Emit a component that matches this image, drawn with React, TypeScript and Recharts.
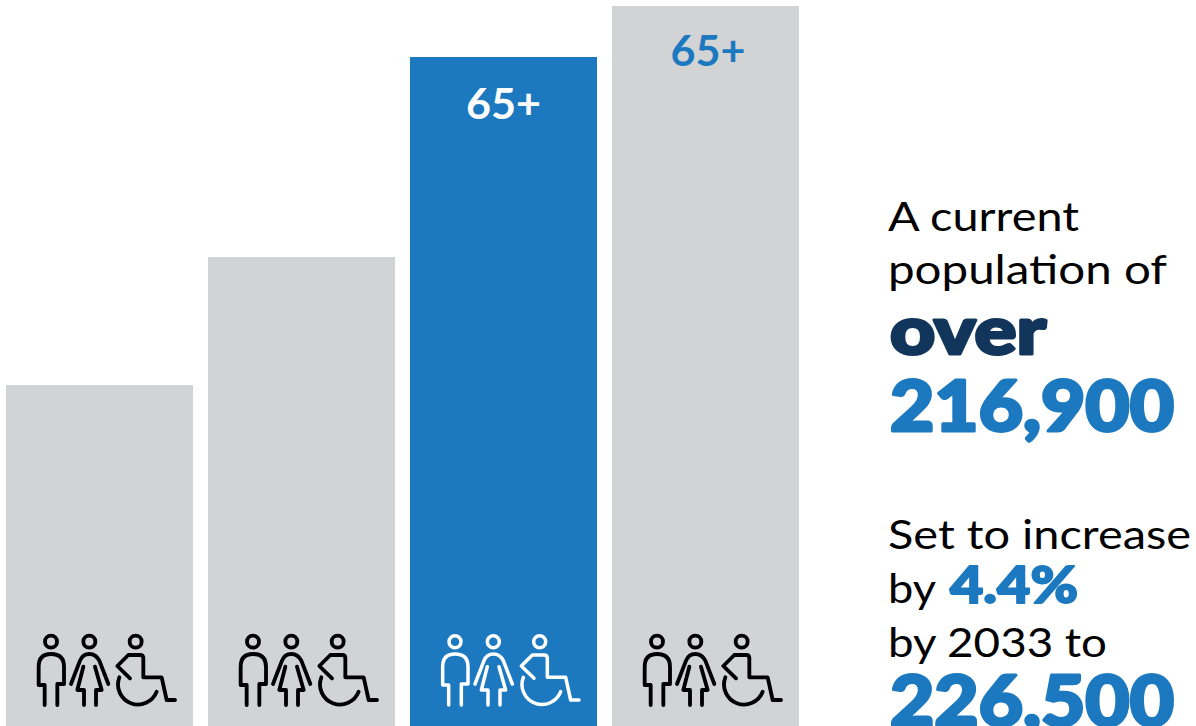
import React from "react";
import { BarChart, Bar, XAxis, YAxis, Rectangle, LabelList } from "recharts";

const ageBands = ["Band A", "Band B", "Band C", "Band D"];
const populationIndex = [341, 469, 669, 720];
const bandLabels = ["", "", "65+", "65+"];

const BLUE = "#1c79c0";
const GREY = "#d1d3d5";
const NAVY = "#12355b";
const HIGHLIGHT = 2;
const FONT = "Lato, 'Open Sans', sans-serif";

const rows = ageBands.map((band, i) => ({
  band,
  value: populationIndex[i],
  label: bandLabels[i],
}));

// Man, woman and wheelchair-user pictograms sitting at the foot of each bar.
function People({ left, colour }: { left: number; colour: string }) {
  return (
    <g
      transform={`translate(${left - 6} 620) scale(${1 / 3})`}
      fill="none"
      stroke={colour}
      strokeWidth={colour === "#000000" ? 11.5 : 10.5}
      strokeLinecap="round"
      strokeLinejoin="round"
    >
      <circle cx={153} cy={65} r={18} />
      <path d="M134 255V195H116V140Q116 102 153 102Q192 102 192 140V192H172V255" />
      <circle cx={268} cy={65} r={18} />
      <path d="M213 192L240 122Q248 102 268 102Q288 102 298 122L325 192" />
      <path d="M250 140L232 210H252V255M285 140L305 210H288V255" />
      <circle cx={407} cy={65} r={18} />
      <path d="M390 175L352 138L385 105H420Q430 105 430 115V172H485L500 240H525" />
      <path d="M358 172A55 55 0 1 0 470 215" />
    </g>
  );
}

function BarWithPeople(props: any) {
  const { x, y, width, height, index } = props;
  const on = index === HIGHLIGHT;
  return (
    <g>
      <Rectangle x={x} y={y} width={width} height={height} fill={on ? BLUE : GREY} />
      <People left={x} colour={on ? "#ffffff" : "#000000"} />
    </g>
  );
}

function BandLabel(props: any) {
  const { x, y, width, value, index } = props;
  if (!value) return null;
  const on = index === HIGHLIGHT;
  return (
    <text
      x={x + width / 2 + (on ? 0 : 2.5)}
      y={y + (on ? 62 : 60)}
      textAnchor="middle"
      fontFamily={FONT}
      fontWeight={700}
      fontSize={42}
      textLength={75}
      lengthAdjust="spacingAndGlyphs"
      fill={on ? "#ffffff" : BLUE}
    >
      {value}
    </text>
  );
}

function Line({ y, size = 41, weight = 400, fill = "#000", x = 888, w, bold = 0, children }: any) {
  return (
    <text
      x={x}
      y={y}
      fontFamily={FONT}
      fontSize={size}
      fontWeight={weight}
      fill={fill}
      stroke={bold ? fill : undefined}
      strokeWidth={bold || undefined}
      strokeLinejoin="round"
      textLength={w}
      lengthAdjust={w ? "spacingAndGlyphs" : undefined}
    >
      {children}
    </text>
  );
}

export default function App() {
  return (
    <div style={{ position: "fixed", left: 0, top: 0, width: 1196, height: 726, background: "#fff" }}>
      <BarChart
        width={1196}
        height={726}
        data={rows}
        margin={{ top: 6, right: 390, bottom: 0, left: -2 }}
      >
        <XAxis dataKey="band" hide />
        <YAxis hide domain={[0, 720]} />
        <Bar dataKey="value" barSize={187} isAnimationActive={false} shape={<BarWithPeople />}>
          <LabelList dataKey="label" content={<BandLabel />} />
        </Bar>
        <Line y={231} w={191}>A current</Line>
        <Line y={284} w={279}>population of</Line>
        <Line y={354} x={890} size={66} weight={900} fill={NAVY} w={156} bold={3}>over</Line>
        <Line y={431} x={890} size={70} weight={900} fill={BLUE} w={284} bold={3}>216,900</Line>
        <Line y={549} w={303}>Set to increase</Line>
        <Line y={603} w={48}>by</Line>
        <Line y={603} x={950} size={52} weight={900} fill={BLUE} w={128} bold={2}>4.4%</Line>
        <Line y={657} w={219}>by 2033 to</Line>
        <Line y={726} x={890} size={70} weight={900} fill={BLUE} w={284} bold={3}>226,500</Line>
      </BarChart>
    </div>
  );
}
